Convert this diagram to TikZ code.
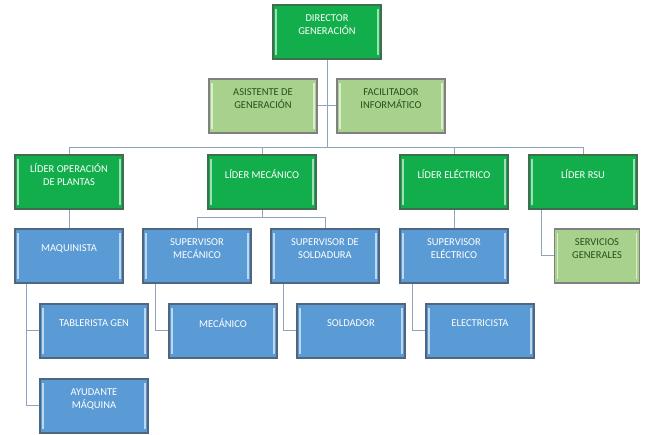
\documentclass[tikz,border=0pt]{standalone}
\usepackage{fontspec}
\setmainfont{Carlito}
\usepackage{tikz}
\usetikzlibrary{calc}
\definecolor{gdark}{HTML}{12AE4B}
\definecolor{gdarkline}{HTML}{3F6E4E}
\definecolor{glight}{HTML}{A9D18E}
\definecolor{glighttext}{HTML}{24501A}
\definecolor{bfill}{HTML}{5B9BD5}
\definecolor{bline}{HTML}{4F6680}
\definecolor{conn}{HTML}{8FA3BF}
\tikzstyle{unit}=[rectangle,draw,line width=1.1pt,minimum width=108pt,minimum height=54pt,inner sep=2pt,align=center,text depth=15pt,font=\fontsize{10.5}{13}\selectfont,
  path picture={\draw[white,opacity=0.6,line width=1.4pt]
    ([shift={(3pt,-4pt)}]path picture bounding box.north west) -- ([shift={(3pt,4pt)}]path picture bounding box.south west)
    ([shift={(-3pt,-4pt)}]path picture bounding box.north east) -- ([shift={(-3pt,4pt)}]path picture bounding box.south east);}]
\tikzstyle{lead}=[unit,fill=gdark,draw=gdarkline,text=white]
\tikzstyle{staff}=[unit,fill=glight,draw=gray,text=glighttext]
\tikzstyle{crew}=[unit,fill=bfill,draw=bline,text=white]
\tikzstyle{link}=[draw=conn,line width=1pt]

\begin{document}
\begin{tikzpicture}[x=1pt,y=-1pt]
\useasboundingbox (0,0) rectangle (654,435);
% vertices
\node[lead] (direc) at (327,32) {DIRECTOR\\GENERACIÓN};
\node[staff] (asist) at (263,106) {ASISTENTE DE\\GENERACIÓN};
\node[staff] (facil) at (391,106) {FACILITADOR\\INFORMÁTICO};
\node[lead] (lop) at (69,182) {LÍDER OPERACIÓN\\DE PLANTAS};
\node[lead] (lmec) at (262,182) {LÍDER MECÁNICO};
\node[lead] (lele) at (454,182) {LÍDER ELÉCTRICO};
\node[lead] (lrsu) at (583,182) {LÍDER RSU};
\node[crew] (maq) at (69,256) {MAQUINISTA};
\node[crew] (supm) at (197,256) {SUPERVISOR\\MECÁNICO};
\node[crew] (sups) at (325,256) {SUPERVISOR DE\\SOLDADURA};
\node[crew] (supe) at (454,256) {SUPERVISOR\\ELÉCTRICO};
\node[staff,minimum width=85pt] (serv) at (597,256) {SERVICIOS\\GENERALES};
\node[crew] (tab) at (94,331) {TABLERISTA GEN};
\node[crew] (mec) at (223,331) {MECÁNICO};
\node[crew] (sol) at (351,331) {SOLDADOR};
\node[crew] (ele) at (480,331) {ELECTRICISTA};
\node[crew] (ayu) at (94,406) {AYUDANTE\\MÁQUINA};

\coordinate (bar) at (327,148);
\coordinate (mecbar) at (262,218);

% edges and paths
\draw[link] (direc) -- (bar);
\draw[link] (asist) -- (asist -| direc);
\draw[link] (facil) -- (facil -| direc);
\draw[link] (bar) -| (lop);
\draw[link] (bar) -| (lmec);
\draw[link] (bar) -| (lele);
\draw[link] (bar) -| (lrsu);
\draw[link] (lop) -- (maq);
\draw[link] (lmec) -- (mecbar) -| (supm);
\draw[link] (mecbar) -| (sups);
\draw[link] (lele) -- (supe);
\draw[link] ([xshift=-42pt]lrsu.south) |- (serv.west);
\draw[link] ([xshift=-43pt]maq.south) |- (tab.west);
\draw[link] ([xshift=-43pt]maq.south) |- (ayu.west);
\draw[link] ([xshift=-42pt]supm.south) |- (mec.west);
\draw[link] ([xshift=-42pt]sups.south) |- (sol.west);
\draw[link] ([xshift=-42pt]supe.south) |- (ele.west);
\end{tikzpicture}
\end{document}
